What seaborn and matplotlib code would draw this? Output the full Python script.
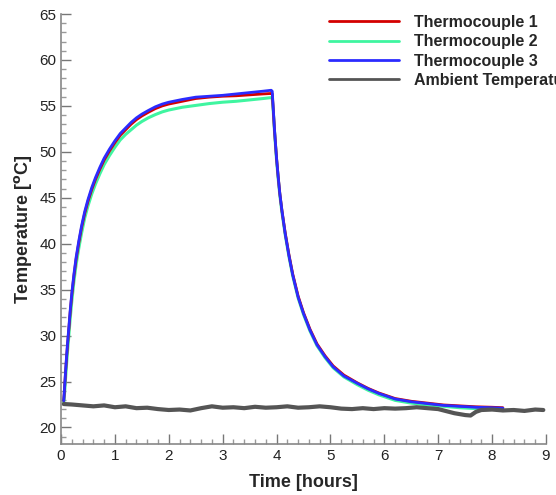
import pandas as pd
import matplotlib
matplotlib.use("Agg")
import matplotlib.pyplot as plt
from matplotlib.ticker import MultipleLocator
import seaborn as sns

# thermocouple readings (time in hours, temperature in degC)
t_tc = [0.05, 0.06, 0.08, 0.10, 0.12, 0.14, 0.17, 0.20, 0.24, 0.28,
        0.33, 0.38, 0.44, 0.50, 0.57, 0.64, 0.72, 0.80, 0.90, 1.00,
        1.10, 1.20, 1.30, 1.40, 1.50, 1.62, 1.75, 1.88, 2.0, 2.25,
        2.5, 2.75, 3.0, 3.25, 3.5, 3.75, 3.9, 3.92, 3.94, 3.96,
        3.98, 4.00, 4.03, 4.06, 4.10, 4.16, 4.23, 4.30, 4.40, 4.50,
        4.62, 4.75, 4.90, 5.05, 5.25, 5.50, 5.70, 5.90, 6.2, 6.5,
        6.8, 7.1, 7.4, 7.7, 8.0, 8.2]
tc1 = [22.9, 23.7, 25.6, 27.3, 28.9, 30.3, 32.5, 34.4, 36.5, 38.3,
       40.1, 41.7, 43.3, 44.6, 45.9, 47.0, 48.1, 49.1, 50.1, 51.0,
       51.8, 52.4, 53.0, 53.5, 53.9, 54.3, 54.7, 55.0, 55.2, 55.5,
       55.8, 55.95, 56.05, 56.1, 56.2, 56.3, 56.35, 56.3, 54.5, 52.5,
       50.9, 49.3, 47.3, 45.5, 43.6, 41.2, 38.8, 36.7, 34.3, 32.5,
       30.7, 29.1, 27.8, 26.7, 25.7, 24.85, 24.25, 23.75, 23.15, 22.85,
       22.65, 22.45, 22.35, 22.25, 22.2, 22.15]
tc2 = [22.6, 23.2, 24.9, 26.6, 28.2, 29.6, 31.8, 33.7, 35.9, 37.7,
       39.5, 41.1, 42.8, 44.1, 45.4, 46.5, 47.6, 48.6, 49.6, 50.5,
       51.3, 51.9, 52.4, 52.9, 53.3, 53.7, 54.05, 54.35, 54.55, 54.85,
       55.05, 55.25, 55.4, 55.5, 55.65, 55.8, 55.9, 55.85, 54.3, 52.4,
       50.7, 49.1, 47.1, 45.3, 43.4, 41.0, 38.6, 36.5, 34.1, 32.3,
       30.5, 28.9, 27.6, 26.5, 25.5, 24.65, 24.05, 23.55, 22.95, 22.65,
       22.45, 22.3, 22.15, 22.05, 22.0, 21.95]
tc3 = [22.9, 23.8, 25.7, 27.5, 29.1, 30.5, 32.7, 34.6, 36.7, 38.5,
       40.3, 41.9, 43.5, 44.8, 46.1, 47.2, 48.3, 49.3, 50.3, 51.2,
       52.0, 52.6, 53.2, 53.7, 54.1, 54.5, 54.9, 55.2, 55.4, 55.7,
       55.95, 56.05, 56.15, 56.3, 56.45, 56.6, 56.7, 56.6, 54.6, 52.6,
       50.9, 49.3, 47.3, 45.5, 43.6, 41.1, 38.7, 36.6, 34.2, 32.4,
       30.6, 29.0, 27.7, 26.6, 25.6, 24.8, 24.2, 23.7, 23.1, 22.8,
       22.6, 22.4, 22.3, 22.2, 22.15, 22.1]

# ambient temperature
t_amb = [0.05, 0.2, 0.4, 0.6, 0.8, 1.0, 1.2, 1.4, 1.6, 1.8, 2.0, 2.2, 2.4, 2.6,
         2.8, 3.0, 3.2, 3.4, 3.6, 3.8, 4.0, 4.2, 4.4, 4.6, 4.8, 5.0, 5.2, 5.4, 5.6,
         5.8, 6.0, 6.2, 6.4, 6.6, 6.8, 7.0, 7.1, 7.2, 7.3, 7.4, 7.5, 7.6, 7.7, 7.8,
         8.0, 8.2, 8.4, 8.6, 8.8, 8.95]
amb = [22.55, 22.5, 22.4, 22.3, 22.4, 22.2, 22.3, 22.1, 22.15, 22.0, 21.9, 21.95,
       21.85, 22.1, 22.3, 22.15, 22.2, 22.1, 22.25, 22.15, 22.2, 22.3, 22.15, 22.2,
       22.3, 22.2, 22.05, 22.0, 22.1, 22.0, 22.1, 22.05, 22.1, 22.2, 22.1, 22.0,
       21.85, 21.7, 21.55, 21.45, 21.35, 21.3, 21.7, 21.9, 21.95, 21.85, 21.9, 21.8,
       21.95, 21.9]

labels = ["Thermocouple 1", "Thermocouple 2", "Thermocouple 3", "Ambient Temperature"]

sns.set_style("ticks")
plt.rcParams['font.family'] = ['Liberation Sans', 'DejaVu Sans']

fig = plt.figure(figsize=(5.56, 4.95), dpi=100)
ax = fig.add_axes([61 / 556, 1 - 444 / 495, 485 / 556, 430 / 495])

df_tc = pd.DataFrame({'t': t_tc, 'tc1': tc1, 'tc2': tc2, 'tc3': tc3})
df_amb = pd.DataFrame({'t': t_amb, 'amb': amb})

sns.lineplot(data=df_tc, x='t', y='tc2', color='#3ff5a0', lw=2.2, ax=ax, label=labels[1])
sns.lineplot(data=df_tc, x='t', y='tc1', color='#d40000', lw=2.0, ax=ax, label=labels[0])
sns.lineplot(data=df_tc, x='t', y='tc3', color='#2b2bff', lw=2.0, ax=ax, label=labels[2])
sns.lineplot(data=df_amb, x='t', y='amb', color='#555555', lw=3.0, ax=ax, label=labels[3])

ax.set_xlim(0, 9)
ax.set_ylim(18.2, 65)
ax.xaxis.set_major_locator(MultipleLocator(1))
ax.xaxis.set_minor_locator(MultipleLocator(0.2))
ax.yaxis.set_minor_locator(MultipleLocator(1))
ax.set_yticks(range(20, 66, 5))
ax.tick_params(which='major', direction='in', length=7, width=1, color='#777777',
               labelsize=11, labelcolor='#222222')
ax.tick_params(which='minor', direction='in', length=3.5, width=1, color='#999999')
sns.despine(ax=ax)
for side in ['left', 'bottom']:
    ax.spines[side].set_color('#888888')
    ax.spines[side].set_linewidth(1.2)

ax.set_xlabel('Time [hours]', fontsize=13, fontweight='bold', labelpad=8)
ax.set_ylabel(r'Temperature [$^\mathbf{o}$C]', fontsize=13, fontweight='bold', labelpad=4)

# legend sits over the top right, running past the figure edge like the original
handles, labs = ax.get_legend_handles_labels()
order = [labs.index(l) for l in labels]
ax.get_legend().remove()
leg = fig.legend([handles[i] for i in order], labels, loc='upper left',
                 bbox_to_anchor=(329 / 556, 1 - 15 / 495), frameon=False,
                 prop={'weight': 'bold', 'size': 11.5}, handlelength=4.4,
                 handletextpad=0.95, labelspacing=0.27, borderpad=0, borderaxespad=0)
for line in leg.get_lines():
    line.set_linewidth(2.0)

fig.savefig('out.png', dpi=100)
